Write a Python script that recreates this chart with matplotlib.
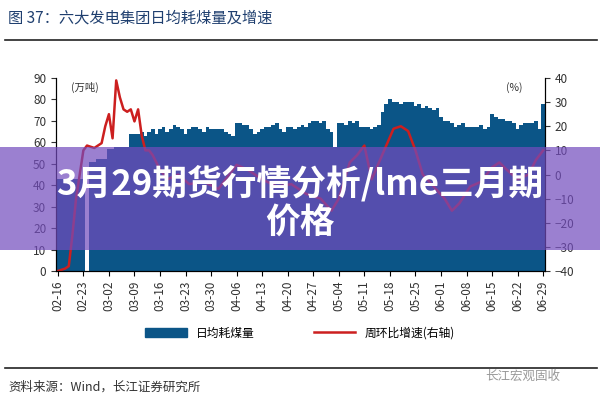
import matplotlib
matplotlib.use("Agg")
import matplotlib.pyplot as plt
from matplotlib.patches import Rectangle
import numpy as np

plt.rcParams['font.family'] = ['Noto Sans CJK SC', 'DejaVu Sans']

# daily coal consumption (10k tonnes), 02-16 .. 06-29
coal = [43, 43, 43, 43, 43, 43, 43, 43,
        0,
        51, 51, 52, 52, 52,
        57, 57, 58, 58, 58, 58,
        64, 64, 64, 65, 63, 65, 66, 64,
        66, 67, 65, 66, 68, 67, 66,
        64, 66, 67, 67, 66, 65, 67,
        66, 66, 66, 66, 65, 64, 63,
        69, 69, 68, 68, 66, 64, 65,
        66, 67, 67, 68, 69, 66, 65,
        67, 67, 66, 67, 68, 67, 69,
        70, 70, 69, 70, 66, 65, 58,
        69, 69, 68, 70, 69, 70, 67,
        67, 67, 66, 67, 68, 74, 78,
        80, 79, 79, 78, 79, 79, 79,
        77, 78, 76, 77, 76, 75, 76,
        72, 70, 70, 69, 67, 68, 69,
        67, 67, 67, 67, 68, 66, 67,
        73, 72, 71, 71, 70, 70, 69,
        66, 68, 69, 69, 69, 70, 66,
        78]

# week-on-week growth (%), right axis
growth_day = [0, 2, 3, 4, 5, 6, 7, 8, 10, 12, 13, 14, 15, 16, 17, 18, 19, 20,
              21, 22, 23, 24, 25, 26, 28, 30, 33, 36, 40, 44, 47, 49, 52, 56,
              60, 64, 68, 72, 75, 77, 80, 82, 84, 86, 88, 90, 92, 94, 96, 98,
              100, 103, 106, 108, 110, 113, 116, 119, 121, 123, 126, 129, 131, 133]
growth = [-40, -39, -38, -25, -10, 0, 10, 12, 11, 13, 20, 25, 15, 39, 32, 27, 26, 27,
          22, 27, 16, 10, 10, 8, 2, -2, 0, -4, -3, -6, 0, 4, 2, -2,
          -5, -4, -8, -10, -15, -10, 5, 8, 12, -2, 5, 12, 19, 20, 18, 10,
          0, -5, -10, -15, -12, -5, -3, 3, 5, 2, -2, 0, 6, 10]

tick_labels = ['02-16', '02-23', '03-02', '03-09', '03-16', '03-23', '03-30',
               '04-06', '04-13', '04-20', '04-27', '05-04', '05-11', '05-18',
               '05-25', '06-01', '06-08', '06-15', '06-22', '06-29']

W, H = 600, 400
fig = plt.figure(figsize=(6, 4), dpi=100)

def px(x0, y0, x1, y1):
    return [x0 / W, 1 - y1 / H, (x1 - x0) / W, (y1 - y0) / H]

# title and rules
fig.text(8 / W, 1 - 18 / H, '图 37：六大发电集团日均耗煤量及增速', fontsize=11,
         color='#1f3f6f', va='center')
fig.add_artist(plt.Line2D([5 / W, 597 / W], [1 - 40 / H] * 2, color='#222222', lw=1.2))
fig.add_artist(plt.Line2D([5 / W, 597 / W], [1 - 368 / H] * 2, color='#222222', lw=1.2))
fig.text(8 / W, 1 - 387 / H, '资料来源：Wind，长江证券研究所', fontsize=9, color='#333333', va='center')
fig.text(485 / W, 1 - 376 / H, '长江宏观固收', fontsize=9, color='#999999', va='center')

ax = fig.add_axes(px(56, 78, 545, 271))
days = np.arange(len(coal))
ax.bar(days, coal, width=1.0, color='#0b5587', linewidth=0)
ax.set_xlim(-0.5, len(coal) - 0.5)
ax.set_ylim(0, 90)
ax.set_yticks(range(0, 91, 10))
ax.set_xticks(np.arange(0, len(coal), 7))
ax.set_xticklabels(tick_labels, rotation=90, fontsize=8.5, color='#333333')
ax.tick_params(axis='y', labelsize=8.5, colors='#333333')
ax.spines['top'].set_visible(False)
ax.text(0.03, 0.98, '(万吨)', transform=ax.transAxes, fontsize=7.5, color='#333333', va='top')

ax2 = ax.twinx()
ax2.plot(growth_day, growth, color='#cc1f1f', lw=1.8)
ax2.set_ylim(-40, 40)
ax2.set_yticks(range(-40, 41, 10))
ax2.tick_params(axis='y', labelsize=8.5, colors='#333333')
ax2.spines['top'].set_visible(False)
ax2.text(0.92, 0.98, '(%)', transform=ax2.transAxes, fontsize=7.5, color='#333333', va='top')

h1 = Rectangle((0, 0), 1, 1, color='#0b5587')
h2 = plt.Line2D([], [], color='#cc1f1f', lw=1.8)
fig.legend([h1, h2], ['日均耗煤量', '周环比增速(右轴)'], loc='center',
           bbox_to_anchor=(0.5, 1 - 333 / H), ncol=2, frameon=False, fontsize=8.5,
           handlelength=3.5, columnspacing=5)

# purple overlay banner
fig.add_artist(Rectangle((0, 1 - 250 / H), 1, 103 / H, transform=fig.transFigure,
                         color='#734cbd', alpha=0.71, lw=0))
fig.text(0.5, 1 - 183 / H, '3月29期货行情分析/lme三月期', fontsize=25, fontweight='bold',
         color='white', ha='center', va='center')
fig.text(0.5, 1 - 222 / H, '价格', fontsize=25, fontweight='bold',
         color='white', ha='center', va='center')

fig.savefig('out.png', dpi=100)
